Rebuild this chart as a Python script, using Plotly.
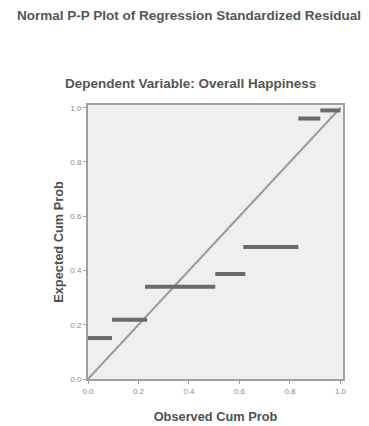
import plotly.graph_objects as go

title_text = "Normal P-P Plot of Regression Standardized Residual"
subtitle_text = "Dependent Variable: Overall Happiness"
x_title = "Observed Cum Prob"
y_title = "Expected Cum Prob"

tick_vals = [0.0, 0.2, 0.4, 0.6, 0.8, 1.0]
tick_text = ["0.0", "0.2", "0.4", "0.6", "0.8", "1.0"]

# clustered runs of cases: observed cum prob (start, end) and expected cum prob
run_obs_start = [0.00, 0.095, 0.226, 0.504, 0.615, 0.833, 0.920]
run_obs_end = [0.095, 0.234, 0.504, 0.623, 0.833, 0.920, 1.000]
run_expected = [0.151, 0.218, 0.340, 0.387, 0.487, 0.960, 0.990]

fig = go.Figure()

# reference diagonal
fig.add_trace(go.Scatter(x=[0, 1], y=[0, 1], mode="lines",
                         line=dict(color="#9a9a9a", width=2),
                         hoverinfo="skip", showlegend=False))

for xs, xe, ye in zip(run_obs_start, run_obs_end, run_expected):
    fig.add_trace(go.Scatter(x=[xs, xe], y=[ye, ye], mode="lines",
                             line=dict(color="#6a6a6a", width=4),
                             showlegend=False))

axis_common = dict(range=[0, 1.01], tickvals=tick_vals, ticktext=tick_text,
                   showgrid=False, zeroline=False, showline=True,
                   linecolor="#a0a0a0", linewidth=2, mirror=True,
                   ticks="outside", ticklen=3, tickcolor="#a0a0a0",
                   automargin=False,
                   tickfont=dict(family="Liberation Sans", size=8, color="#8a8a8a"))

fig.update_layout(
    width=361, height=418,
    margin=dict(l=80, r=26, t=97, b=47),
    paper_bgcolor="white", plot_bgcolor="#efefef",
    xaxis=dict(**axis_common,
               title=dict(text="<b>" + x_title + "</b>", standoff=17,
                          font=dict(family="Liberation Sans", size=12.8, color="#505050"))),
    yaxis=dict(**axis_common,
               title=dict(text="<b>" + y_title + "</b>", standoff=4,
                          font=dict(family="Liberation Sans", size=12.8, color="#505050"))),
    annotations=[
        dict(text="<b>" + title_text + "</b>", xref="paper", yref="paper",
             x=0.5, y=1, xanchor="center", yanchor="middle",
             showarrow=False, xshift=-27, yshift=90,
             font=dict(family="Liberation Sans", size=13.5, color="#555555")),
        dict(text="<b>" + subtitle_text + "</b>", xref="paper", yref="paper",
             x=0.5, y=1, xanchor="center", yanchor="middle",
             showarrow=False, xshift=-25, yshift=22,
             font=dict(family="Liberation Sans", size=13.5, color="#555555")),
    ],
)

fig.write_html("out.html")
